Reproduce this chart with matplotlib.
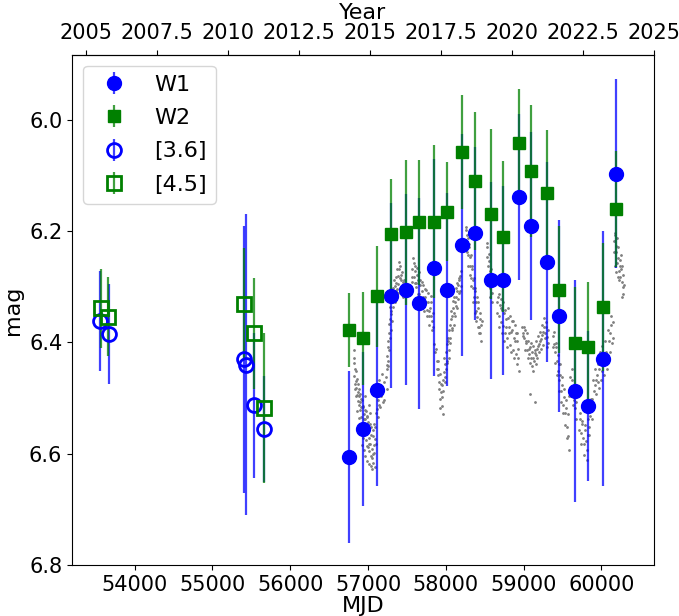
import matplotlib
matplotlib.use("Agg")
import matplotlib.pyplot as plt
import numpy as np

# WISE / NEOWISE photometry
w_mjd = [56759, 56940, 57120, 57300, 57484, 57651, 57849, 58012, 58214, 58372,
         58578, 58737, 58943, 59101, 59303, 59462, 59668, 59831, 60028, 60187]
w1_mag = [6.606, 6.556, 6.486, 6.316, 6.305, 6.330, 6.266, 6.305, 6.225, 6.204,
          6.288, 6.288, 6.139, 6.191, 6.256, 6.353, 6.487, 6.514, 6.429, 6.097]
w1_err = [0.154, 0.139, 0.173, 0.166, 0.172, 0.190, 0.195, 0.174, 0.200, 0.156,
          0.177, 0.170, 0.149, 0.169, 0.180, 0.173, 0.200, 0.135, 0.229, 0.170]
w2_mag = [6.378, 6.393, 6.317, 6.205, 6.202, 6.184, 6.183, 6.165, 6.058, 6.110,
          6.169, 6.210, 6.042, 6.092, 6.131, 6.305, 6.401, 6.409, 6.337, 6.160]
w2_err = [0.067, 0.083, 0.091, 0.099, 0.130, 0.112, 0.138, 0.089, 0.103, 0.124,
          0.153, 0.136, 0.098, 0.119, 0.112, 0.114, 0.100, 0.118, 0.115, 0.104]

# Spitzer photometry
i1_mjd = [53559, 53667, 55408, 55430, 55537, 55662]
i1_mag = [6.362, 6.385, 6.430, 6.440, 6.513, 6.556]
i1_err = [0.090, 0.090, 0.240, 0.270, 0.130, 0.095]
i2_mjd = [53568, 53661, 55404, 55537, 55665]
i2_mag = [6.339, 6.354, 6.331, 6.384, 6.518]
i2_err = [0.071, 0.071, 0.100, 0.100, 0.134]

# scaled optical light curve (gray points)
gray_mjd = [
    56814, 56815, 56822, 56830, 56836, 56842, 56850, 56858, 56865, 56872, 56880, 56888,
    56895, 56902, 56910, 56916, 56922, 56930, 56936, 56944, 56950, 56957, 56963, 56970,
    56976, 56983, 56990, 56996, 57003, 57010, 57016, 57022, 57030, 57037, 57044, 57050,
    57058, 57065, 57072, 57080, 57090, 57100, 57112, 57125, 57140, 57155, 57170, 57185, 57200,
    57235, 57240, 57248, 57255, 57262, 57270, 57278, 57285, 57292, 57300, 57310, 57320,
    57330, 57340, 57350, 57360, 57370, 57380, 57390, 57400, 57410, 57420, 57430, 57440, 57450,
    57560, 57572, 57585, 57598, 57610, 57622, 57635, 57648, 57660, 57672, 57685, 57698,
    57710, 57722, 57735, 57748, 57760, 57772, 57785, 57798, 57810, 57822, 57835,
    57885, 57895, 57905, 57915, 57925, 57935, 57945, 57955, 57960, 57965, 57975, 57985, 57995,
    58005, 58015, 58025, 58035, 58045, 58055, 58065, 58075, 58085, 58095, 58105, 58115,
    58125, 58135, 58145, 58155, 58165, 58175, 58185, 58195,
    58255, 58265, 58275, 58285, 58295, 58305, 58315, 58325, 58335, 58345, 58355, 58365,
    58375, 58385, 58395, 58405, 58415, 58425, 58435, 58445, 58455,
    58530, 58540, 58550, 58560, 58570, 58580, 58590, 58660, 58672, 58685, 58698, 58710,
    58722, 58735, 58748, 58760, 58772, 58785, 58798, 58810, 58822, 58835, 58848, 58860,
    58872, 58885, 58898, 58910, 58922, 58935,
    58985, 58998, 59010, 59022, 59035, 59048, 59060, 59072, 59085, 59087, 59097, 59110,
    59122, 59135, 59147, 59152, 59160, 59172, 59185, 59197, 59210, 59222, 59235, 59248,
    59260, 59272, 59285, 59298, 59310,
    59375, 59388, 59400, 59412, 59425, 59438, 59450, 59462, 59475, 59488, 59500, 59512,
    59525, 59538, 59550, 59562, 59575, 59590, 59605, 59620, 59635, 59650, 59665, 59680,
    59720, 59735, 59750, 59765, 59780, 59795, 59810, 59825, 59840, 59855, 59870, 59885,
    59900, 59915, 59930, 59945, 59960, 59975, 59990, 60005, 60020, 60040, 60060, 60080,
    60100, 60115, 60130, 60145,
    60165, 60175, 60185, 60195, 60200, 60205, 60215, 60225, 60230, 60235, 60245, 60250,
    60255, 60265, 60275, 60285]
gray_mag = [
    6.413, 6.437, 6.461, 6.448, 6.475, 6.482, 6.469, 6.494, 6.506, 6.490, 6.513, 6.497,
    6.521, 6.508, 6.534, 6.502, 6.546, 6.517, 6.553, 6.529, 6.564, 6.522, 6.538, 6.575,
    6.551, 6.533, 6.586, 6.559, 6.544, 6.572, 6.595, 6.547, 6.583, 6.604, 6.566, 6.592,
    6.558, 6.601, 6.584, 6.546, 6.573, 6.527, 6.519, 6.503, 6.512, 6.488, 6.497, 6.485, 6.503,
    6.462, 6.441, 6.425, 6.433, 6.398, 6.384, 6.392, 6.358, 6.349, 6.343, 6.327, 6.318,
    6.312, 6.321, 6.298, 6.293, 6.304, 6.281, 6.295, 6.268, 6.302, 6.279, 6.288, 6.311, 6.296,
    6.268, 6.283, 6.257, 6.294, 6.271, 6.301, 6.279, 6.288, 6.313, 6.297, 6.322, 6.308,
    6.297, 6.334, 6.318, 6.306, 6.342, 6.327, 6.353, 6.338, 6.317, 6.361, 6.347,
    6.433, 6.458, 6.447, 6.484, 6.502, 6.489, 6.514, 6.477, 6.528, 6.468, 6.453, 6.462, 6.438,
    6.418, 6.434, 6.397, 6.413, 6.378, 6.392, 6.358, 6.374, 6.353, 6.338, 6.347, 6.327,
    6.318, 6.334, 6.308, 6.297, 6.312, 6.288, 6.281, 6.298,
    6.198, 6.223, 6.207, 6.243, 6.228, 6.262, 6.247, 6.284, 6.268, 6.302, 6.287, 6.318,
    6.308, 6.343, 6.327, 6.354, 6.338, 6.372, 6.358, 6.383, 6.368,
    6.228, 6.263, 6.241, 6.284, 6.303, 6.268, 6.312, 6.327, 6.318, 6.352, 6.333, 6.364,
    6.342, 6.371, 6.347, 6.384, 6.358, 6.393, 6.338, 6.372, 6.404, 6.381, 6.362, 6.413,
    6.392, 6.368, 6.421, 6.398, 6.383, 6.428,
    6.372, 6.384, 6.393, 6.377, 6.402, 6.413, 6.398, 6.421, 6.408, 6.492, 6.428, 6.417,
    6.406, 6.434, 6.419, 6.508, 6.397, 6.412, 6.388, 6.403, 6.382, 6.394, 6.368, 6.381,
    6.357, 6.384, 6.372, 6.391, 6.402,
    6.388, 6.403, 6.417, 6.409, 6.433, 6.452, 6.438, 6.467, 6.458, 6.488, 6.477, 6.512,
    6.498, 6.527, 6.518, 6.553, 6.568, 6.497, 6.483, 6.468, 6.492, 6.503, 6.518, 6.507,
    6.538, 6.563, 6.547, 6.572, 6.583, 6.558, 6.594, 6.567, 6.552, 6.533, 6.517, 6.502,
    6.488, 6.477, 6.468, 6.458, 6.472, 6.447, 6.438, 6.452, 6.428, 6.441, 6.418, 6.433,
    6.398, 6.384, 6.368, 6.392,
    6.218, 6.203, 6.238, 6.227, 6.212, 6.258, 6.248, 6.272, 6.287, 6.263, 6.283, 6.242,
    6.268, 6.292, 6.301, 6.313]

# more gray points (scatter around the same light curve)
gray2_mjd = [
    56820, 56828, 56840, 56848, 56856, 56862, 56870, 56878, 56886, 56893, 56900, 56907,
    56914, 56920, 56927, 56934, 56940, 56947, 56953, 56960, 56967, 56973, 56980, 56987,
    56993, 57000, 57007, 57013, 57019, 57026, 57033, 57040, 57047, 57054, 57061, 57068,
    57075, 57085, 57095, 57105, 57118, 57130, 57145, 57160, 57178, 57192, 57210,
    57238, 57245, 57252, 57260, 57266, 57275, 57282, 57290, 57296, 57305, 57315, 57325,
    57335, 57345, 57355, 57365, 57375, 57385, 57395, 57405, 57415, 57425, 57435, 57445,
    57455, 57465,
    57565, 57578, 57590, 57604, 57616, 57628, 57640, 57654, 57666, 57678, 57690, 57704,
    57716, 57728, 57740, 57754, 57766, 57778, 57790, 57804, 57816, 57828, 57842, 57850,
    57860, 57870,
    57890, 57900, 57910, 57920, 57930, 57940, 57950, 57970, 57980, 57990, 58000, 58010,
    58020, 58030, 58040, 58050, 58060, 58070, 58080, 58090, 58100, 58110, 58120, 58130,
    58140, 58150, 58160, 58170, 58180, 58190,
    58250, 58260, 58270, 58280, 58290, 58300, 58310, 58320, 58330, 58340, 58350, 58360,
    58370, 58380, 58390, 58400, 58410, 58420, 58430, 58440, 58450, 58460,
    58525, 58535, 58545, 58555, 58565, 58575, 58585, 58595, 58665, 58678, 58690, 58704,
    58716, 58728, 58740, 58754, 58766, 58778, 58790, 58804, 58816, 58828, 58842, 58854,
    58866, 58878, 58892, 58904, 58916, 58928, 58940,
    58990, 59004, 59016, 59028, 59040, 59054, 59066, 59078, 59091, 59103, 59116, 59128,
    59141, 59155, 59166, 59178, 59191, 59204, 59216, 59228, 59241, 59254, 59266, 59279,
    59292, 59304, 59316,
    59380, 59394, 59406, 59418, 59430, 59444, 59456, 59468, 59481, 59494, 59506, 59518,
    59531, 59544, 59556, 59568, 59580, 59595, 59612, 59628, 59642, 59658, 59672, 59688,
    59712, 59728, 59742, 59758, 59772, 59788, 59802, 59818, 59832, 59848, 59862, 59878,
    59892, 59908, 59922, 59938, 59952, 59968, 59982, 59998, 60012, 60030, 60050, 60070,
    60090, 60108, 60122, 60138, 60150,
    60160, 60170, 60180, 60190, 60210, 60220, 60240, 60260, 60270, 60280, 60290]
gray2_mag = [
    6.428, 6.483, 6.452, 6.497, 6.466, 6.523, 6.474, 6.536, 6.483, 6.548, 6.492, 6.563,
    6.517, 6.584, 6.503, 6.572, 6.514, 6.593, 6.538, 6.497, 6.604, 6.523, 6.562, 6.613,
    6.534, 6.588, 6.512, 6.618, 6.583, 6.527, 6.622, 6.553, 6.607, 6.628, 6.568, 6.617,
    6.598, 6.624, 6.553, 6.582, 6.478, 6.534, 6.468, 6.517, 6.457, 6.508, 6.472,
    6.483, 6.447, 6.408, 6.442, 6.367, 6.413, 6.336, 6.378, 6.318, 6.362, 6.302, 6.337,
    6.288, 6.328, 6.283, 6.307, 6.268, 6.312, 6.256, 6.284, 6.263, 6.306, 6.274, 6.292,
    6.318, 6.288,
    6.292, 6.248, 6.283, 6.262, 6.294, 6.266, 6.313, 6.273, 6.288, 6.327, 6.292, 6.318,
    6.343, 6.304, 6.328, 6.352, 6.312, 6.343, 6.368, 6.327, 6.353, 6.378, 6.372, 6.403,
    6.418, 6.412,
    6.448, 6.433, 6.472, 6.457, 6.518, 6.474, 6.498, 6.487, 6.428, 6.472, 6.447, 6.403,
    6.437, 6.392, 6.428, 6.368, 6.402, 6.343, 6.378, 6.326, 6.368, 6.318, 6.353, 6.302,
    6.338, 6.293, 6.322, 6.284, 6.307, 6.272,
    6.218, 6.192, 6.238, 6.213, 6.263, 6.224, 6.278, 6.243, 6.298, 6.262, 6.327, 6.284,
    6.348, 6.302, 6.362, 6.318, 6.372, 6.328, 6.384, 6.347, 6.398, 6.362,
    6.247, 6.222, 6.288, 6.253, 6.272, 6.318, 6.293, 6.327, 6.348, 6.313, 6.372, 6.338,
    6.322, 6.383, 6.328, 6.398, 6.342, 6.372, 6.408, 6.357, 6.383, 6.352, 6.418, 6.377,
    6.362, 6.428, 6.398, 6.384, 6.438, 6.412, 6.452,
    6.388, 6.372, 6.413, 6.398, 6.384, 6.428, 6.412, 6.437, 6.402, 6.442, 6.428, 6.452,
    6.413, 6.438, 6.422, 6.428, 6.407, 6.418, 6.398, 6.412, 6.387, 6.404, 6.372, 6.392,
    6.363, 6.408, 6.378,
    6.408, 6.382, 6.437, 6.402, 6.458, 6.423, 6.487, 6.438, 6.508, 6.462, 6.527, 6.483,
    6.548, 6.503, 6.572, 6.528, 6.593, 6.462, 6.497, 6.448, 6.512, 6.478, 6.538, 6.497,
    6.558, 6.527, 6.583, 6.542, 6.602, 6.548, 6.578, 6.612, 6.538, 6.567, 6.502, 6.538,
    6.468, 6.513, 6.447, 6.492, 6.438, 6.482, 6.418, 6.468, 6.407, 6.458, 6.397, 6.447,
    6.378, 6.418, 6.352, 6.402, 6.363,
    6.238, 6.262, 6.207, 6.273, 6.228, 6.283, 6.252, 6.263, 6.318, 6.278, 6.297]

plt.rcParams['font.family'] = ['DejaVu Sans']

fig = plt.figure(figsize=(6.79, 6.16), dpi=100)
ax = fig.add_axes([0.106, 0.083, 0.857, 0.828])

ax.plot(gray_mjd, gray_mag, '.', color='gray', markersize=2, zorder=1)
ax.plot(gray2_mjd, gray2_mag, '.', color='gray', markersize=2, zorder=1)

blue_e = (0.0, 0.0, 1.0, 0.75)
green_e = (0.0, 0.5, 0.0, 0.75)

h1 = ax.errorbar(w_mjd, w1_mag, yerr=w1_err, fmt='o', color='blue', ecolor=blue_e,
                 elinewidth=1.6, markersize=10, label='W1')
h2 = ax.errorbar(w_mjd, w2_mag, yerr=w2_err, fmt='s', color='green', ecolor=green_e,
                 elinewidth=1.6, markersize=9, label='W2')
h3 = ax.errorbar(i1_mjd, i1_mag, yerr=i1_err, fmt='o', color='blue', ecolor=blue_e,
                 elinewidth=1.6, markersize=10, mfc='none', mew=2, label='[3.6]')
h4 = ax.errorbar(i2_mjd, i2_mag, yerr=i2_err, fmt='s', color='green', ecolor=green_e,
                 elinewidth=1.6, markersize=10, mfc='none', mew=2, label='[4.5]')
for h in (h1, h2, h3, h4):
    h[0].set_zorder(5)

ax.set_xlim(53193, 60676)
ax.set_ylim(6.8, 5.883)
ax.set_yticks([6.0, 6.2, 6.4, 6.6, 6.8])
ax.set_xticks([54000, 55000, 56000, 57000, 58000, 59000, 60000])
ax.tick_params(labelsize=15)
ax.set_xlabel('MJD', fontsize=16, labelpad=1)
ax.set_ylabel('mag', fontsize=16)

def mjd2yr(m):
    return 2000.0 + (np.asarray(m) - 51544.5) / 365.25

def yr2mjd(y):
    return (np.asarray(y) - 2000.0) * 365.25 + 51544.5

sec = ax.secondary_xaxis('top', functions=(mjd2yr, yr2mjd))
sec.set_xticks([2005, 2007.5, 2010, 2012.5, 2015, 2017.5, 2020, 2022.5, 2025])
sec.set_xticklabels(['2005', '2007.5', '2010', '2012.5', '2015', '2017.5', '2020', '2022.5', '2025'])
sec.tick_params(labelsize=15, pad=5)
sec.set_xlabel('Year', fontsize=16, labelpad=3)

ax.legend(loc='upper left', fontsize=16, labelspacing=0.6)

fig.savefig('out.png', dpi=100)
